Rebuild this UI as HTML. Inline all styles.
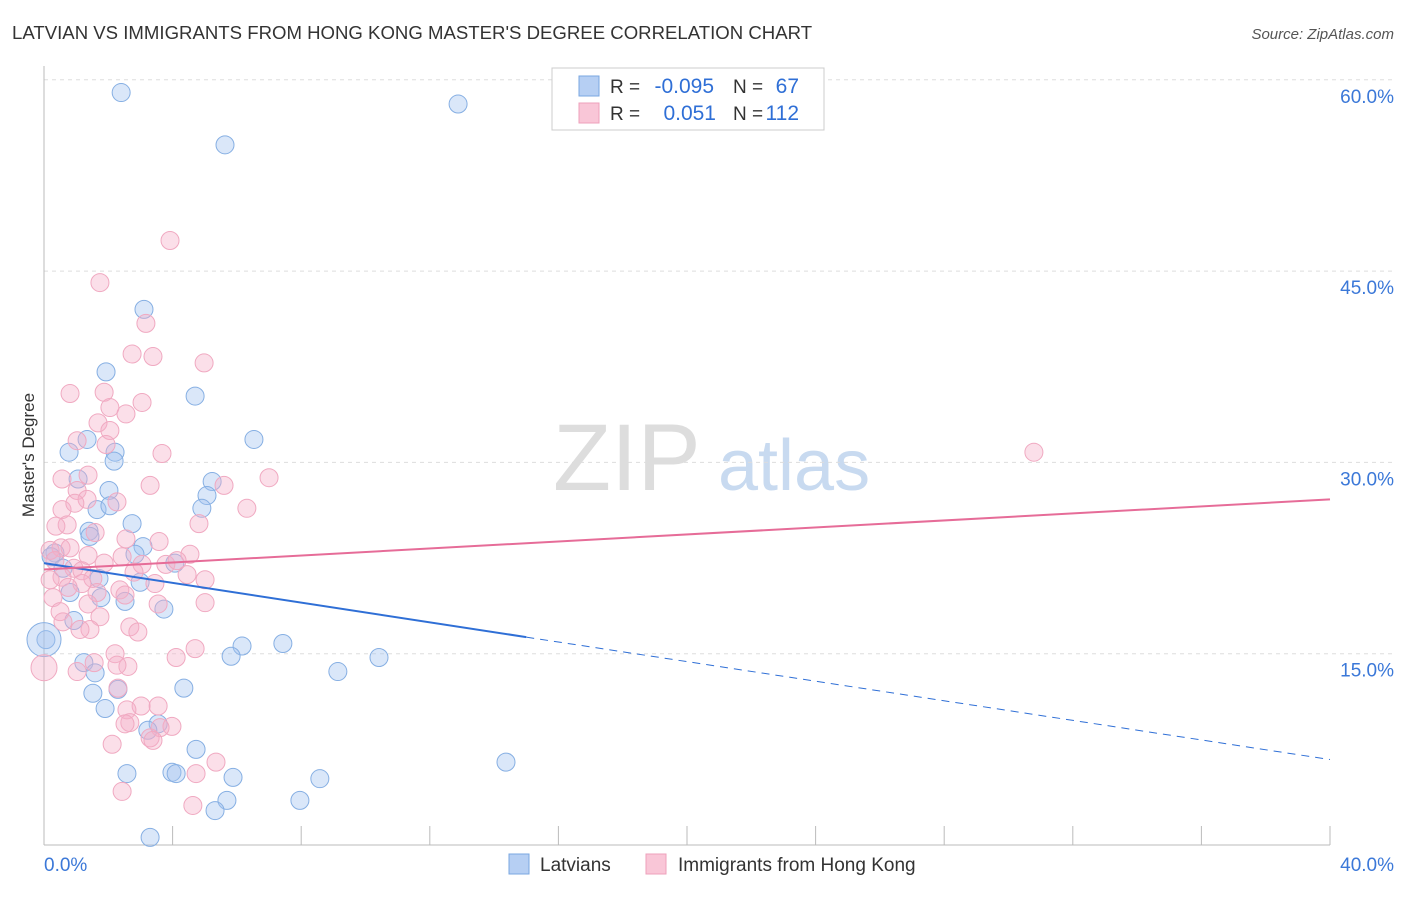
<!DOCTYPE html>
<html><head><meta charset="utf-8"><style>
body{margin:0;background:#fff;font-family:"Liberation Sans",sans-serif;}
svg text{font-family:"Liberation Sans",sans-serif;}
</style></head><body>
<svg id="chart" width="1406" height="892">
<text x="12" y="39" font-size="18.6" fill="#333">LATVIAN VS IMMIGRANTS FROM HONG KONG MASTER'S DEGREE CORRELATION CHART</text>
<text x="1394" y="39" font-size="15" fill="#555" text-anchor="end" font-style="italic">Source: ZipAtlas.com</text>
<text x="34" y="455" font-size="17" fill="#333" transform="rotate(-90 34 455)" text-anchor="middle">Master's Degree</text>
<g><text x="553" y="490" font-size="95" fill="#ddd" font-family="Liberation Serif,serif">ZIP</text><text x="718" y="490" font-size="72" fill="#c8daf0">atlas</text></g>
<g id="grid"></g><g id="pts"></g><g id="trend"></g>
<g>
<rect x="552" y="68" width="272" height="62" fill="#fff" stroke="#ccc"/>
<rect x="579" y="76" width="20" height="20" fill="#b6cff3" stroke="#7aa7e0"/>
<rect x="579" y="103" width="20" height="20" fill="#f9c6d7" stroke="#eea0bb"/>
<text x="610" y="93" font-size="19" fill="#333">R =</text>
<text x="714" y="93" font-size="21" fill="#2f6fd6" text-anchor="end">-0.095</text>
<text x="733" y="93" font-size="19" fill="#333">N =</text>
<text x="799" y="93" font-size="21" fill="#2f6fd6" text-anchor="end">67</text>
<text x="610" y="120" font-size="19" fill="#333">R =</text>
<text x="716" y="120" font-size="21" fill="#2f6fd6" text-anchor="end">0.051</text>
<text x="733" y="120" font-size="19" fill="#333">N =</text>
<text x="799" y="120" font-size="21" fill="#2f6fd6" text-anchor="end">112</text>
</g>
<g>
<rect x="509" y="854" width="20" height="20" fill="#b6cff3" stroke="#7aa7e0"/>
<text x="540" y="871" font-size="19" fill="#333">Latvians</text>
<rect x="646" y="854" width="20" height="20" fill="#f9c6d7" stroke="#eea0bb"/>
<text x="678" y="871" font-size="19" fill="#333">Immigrants from Hong Kong</text>
</g>
</svg>
<script>
const yTicks=[15,30,45,60];
const yTickLabels=["15.0%","30.0%","45.0%","60.0%"];
const xTicks=[0,4,8,12,16,20,24,28,32,36,40];
const blueX=[2.40,12.88,5.63,3.11,4.70,1.93,6.53,1.34,0.78,2.21,2.18,5.23,1.06,2.02,5.07,4.91,1.65,2.05,2.74,1.40,1.43,3.08,2.83,0.34,0.22,4.07,0.59,1.71,2.99,0.81,1.77,2.52,3.73,0.93,0.06,6.16,5.82,7.43,10.42,9.14,1.24,1.59,4.35,2.30,1.52,1.90,3.55,3.23,4.73,2.58,3.98,4.11,5.88,8.58,14.37,5.69,7.96,5.32,3.30,0];
const blueY=[59.0,58.1,54.9,42.0,35.2,37.1,31.8,31.8,30.8,30.8,30.1,28.5,28.7,27.8,27.4,26.4,26.3,26.6,25.2,24.6,24.2,23.4,22.8,22.9,22.6,22.1,21.7,20.9,20.6,19.8,19.4,19.1,18.5,17.6,16.1,15.6,14.8,15.8,14.7,13.6,14.3,13.5,12.3,12.2,11.9,10.7,9.5,9.0,7.5,5.6,5.7,5.6,5.3,5.2,6.5,3.5,3.5,2.7,0.6,16.1];
const pinkX=[3.92,1.74,3.17,2.74,3.39,4.98,0.81,1.87,2.05,2.55,3.05,1.68,2.05,1.03,1.93,3.67,1.37,0.56,3.30,5.60,7.00,1.03,2.27,1.34,6.31,0.56,0.96,0.72,0.37,4.82,1.59,2.55,3.58,0.53,0.81,0.19,4.54,2.43,1.37,0.34,3.05,3.79,0.93,1.18,4.45,0.56,1.52,0.19,2.80,1.18,3.45,0.75,2.36,1.65,5.01,2.52,0.28,3.55,1.37,0.50,1.74,2.67,2.92,1.43,4.70,2.21,4.11,2.61,2.27,1.03,1.56,2.30,3.02,3.55,2.58,2.67,2.52,3.98,3.61,2.12,3.30,3.39,5.35,4.73,2.43,4.63,30.79,5.01,4.14,1.87,0.59,1.12,0];
const pinkY=[47.4,44.1,40.9,38.5,38.3,37.8,35.4,35.5,34.3,33.8,34.7,33.1,32.5,31.7,31.4,30.7,29.0,28.7,28.2,28.2,28.8,27.8,26.9,27.1,26.4,26.3,26.8,25.1,25.0,25.2,24.5,24.0,23.8,23.3,23.3,23.1,22.8,22.6,22.7,22.3,22.0,22.0,21.7,21.5,21.2,21.0,20.9,20.8,21.4,20.5,20.5,20.2,20.0,19.8,19.0,19.6,19.4,18.9,18.9,18.3,17.9,17.1,16.7,16.9,15.4,15.0,14.7,14.0,14.1,13.6,14.3,12.3,10.9,10.9,10.6,9.6,9.5,9.3,9.2,7.9,8.4,8.2,6.5,5.6,4.2,3.1,30.8,20.8,22.3,22.1,17.5,16.9,13.9];
const blueTrend=[22.1,16.3,6.7], blueTrendX=[0,15,40];
const pinkTrend=[21.6,27.1], pinkTrendX=[0,40];
const NS="http://www.w3.org/2000/svg";
const X=v=>44+v/40*1286, Y=v=>845-v/15*191.3;
function mk(t,a,p){const e=document.createElementNS(NS,t);for(const k in a)e.setAttribute(k,a[k]);p.appendChild(e);return e;}
const g=document.getElementById('grid');
yTicks.forEach((t,i)=>{
 const l=mk('line',{x1:44,x2:1394,y1:Y(t),y2:Y(t),stroke:'#ddd','stroke-dasharray':'4,4'},g);
 
 
 const tx=mk('text',{x:1394,y:Y(t)+23,'font-size':19,fill:'#3b78d8','text-anchor':'end'},g);tx.textContent=yTickLabels[i];
 
 
});
mk('line',{x1:44,x2:44,y1:66,y2:845,stroke:'#bbb'},g);
mk('line',{x1:44,x2:1330,y1:845,y2:845,stroke:'#bbb'},g);
xTicks.forEach(t=>{const l=mk('line',{x1:X(t),x2:X(t),y1:826,y2:845,stroke:'#bbb'},g);
 
 });
let a=mk('text',{x:44,y:871,'font-size':19,fill:'#3b78d8'},g);a.textContent='0.0%';


a=mk('text',{x:1394,y:871,'font-size':19,fill:'#3b78d8','text-anchor':'end'},g);a.textContent='40.0%';


const p=document.getElementById('pts');
blueX.forEach((x,i)=>{const c=mk('circle',{cx:X(x),cy:Y(blueY[i]),r:i==blueX.length-1?17:9,fill:'rgba(163,196,240,0.4)',stroke:'#86afe3','stroke-width':1},p);
 
 });
pinkX.forEach((x,i)=>{const c=mk('circle',{cx:X(x),cy:Y(pinkY[i]),r:i==pinkX.length-1?13:9,fill:'rgba(246,176,200,0.4)',stroke:'#f0a9c1','stroke-width':1},p);
 
 });
const tr=document.getElementById('trend');
let l=mk('line',{x1:X(blueTrendX[0]),y1:Y(blueTrend[0]),x2:X(blueTrendX[1]),y2:Y(blueTrend[1]),stroke:'#2f6fd6','stroke-width':2},tr);


l=mk('line',{x1:X(blueTrendX[1]),y1:Y(blueTrend[1]),x2:X(blueTrendX[2]),y2:Y(blueTrend[2]),stroke:'#2f6fd6','stroke-width':1,'stroke-dasharray':'8,6'},tr);


l=mk('line',{x1:X(pinkTrendX[0]),y1:Y(pinkTrend[0]),x2:X(pinkTrendX[1]),y2:Y(pinkTrend[1]),stroke:'#e66c98','stroke-width':2},tr);


</script>
</body></html>
